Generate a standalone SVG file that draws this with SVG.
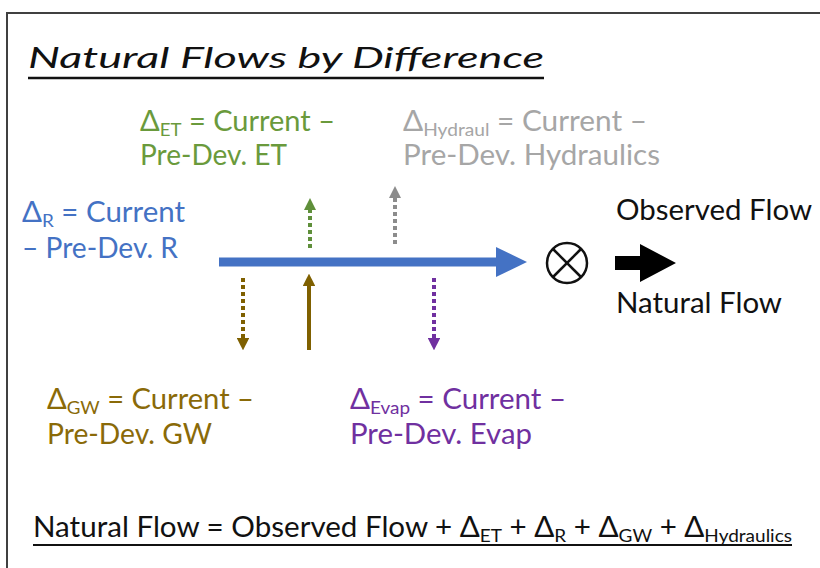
<svg xmlns="http://www.w3.org/2000/svg" width="820" height="568" viewBox="0 0 820 568">
  <style>
    text { font-family: Lato, "Open Sans", "Liberation Sans", sans-serif; font-size: 28px; }
    .sub { font-size: 18px; }
    .green { fill: #6a9a3c; }
    .grey { fill: #a6a6a6; }
    .blue { fill: #4472c4; }
    .gold { fill: #8a6a08; }
    .purple { fill: #7030a0; }
    .dark { fill: #111111; }
    .dot { fill: none; stroke-width: 4; stroke-dasharray: 4 3; }
  </style>
  <defs>
    <marker id="headGreen" viewBox="0 0 10 10" refX="5" refY="5" markerWidth="3" markerHeight="3" orient="auto">
      <path d="M0,0 L10,5 L0,10 Z" fill="#5f8f3a"/>
    </marker>
    <marker id="headGrey" viewBox="0 0 10 10" refX="5" refY="5" markerWidth="3" markerHeight="3" orient="auto">
      <path d="M0,0 L10,5 L0,10 Z" fill="#8c8c8c"/>
    </marker>
    <marker id="headGold" viewBox="0 0 10 10" refX="5" refY="5" markerWidth="3.2" markerHeight="3.2" orient="auto">
      <path d="M0,0 L10,5 L0,10 Z" fill="#7f6000"/>
    </marker>
    <marker id="headPurple" viewBox="0 0 10 10" refX="5" refY="5" markerWidth="3.2" markerHeight="3.2" orient="auto">
      <path d="M0,0 L10,5 L0,10 Z" fill="#7030a0"/>
    </marker>
  </defs>

  <rect x="0" y="0" width="820" height="568" fill="#ffffff"/>
  <!-- slide frame, open to the right and bottom -->
  <path d="M7,570 L7,13 L822,13" fill="none" stroke="#404040" stroke-width="2"/>

  <!-- title -->
  <g id="title">
    <text x="28" y="68" font-size="44" font-style="italic" class="dark" textLength="516" lengthAdjust="spacingAndGlyphs">Natural Flows by Difference</text>
    <line x1="28" y1="78" x2="544" y2="78" stroke="#111" stroke-width="2.5"/>
  </g>

  <!-- labels -->
  <g id="delta-et" class="green">
    <text x="140" y="131" textLength="195" lengthAdjust="spacingAndGlyphs">Δ<tspan class="sub" dy="5">ET</tspan><tspan dy="-5"> = Current –</tspan></text>
    <text x="140" y="165" textLength="147" lengthAdjust="spacingAndGlyphs">Pre-Dev. ET</text>
  </g>
  <g id="delta-hydraul" class="grey">
    <text x="403" y="131" textLength="244" lengthAdjust="spacingAndGlyphs">Δ<tspan class="sub" dy="5">Hydraul</tspan><tspan dy="-5"> = Current –</tspan></text>
    <text x="403" y="165" textLength="257" lengthAdjust="spacingAndGlyphs">Pre-Dev. Hydraulics</text>
  </g>
  <g id="delta-r" class="blue">
    <text x="22" y="222" textLength="163" lengthAdjust="spacingAndGlyphs">Δ<tspan class="sub" dy="5">R</tspan><tspan dy="-5"> = Current</tspan></text>
    <text x="22" y="258" textLength="156" lengthAdjust="spacingAndGlyphs">– Pre-Dev. R</text>
  </g>
  <g id="delta-gw" class="gold">
    <text x="47" y="409" textLength="207" lengthAdjust="spacingAndGlyphs">Δ<tspan class="sub" dy="5">GW</tspan><tspan dy="-5"> = Current –</tspan></text>
    <text x="47" y="444" textLength="165" lengthAdjust="spacingAndGlyphs">Pre-Dev. GW</text>
  </g>
  <g id="delta-evap" class="purple">
    <text x="350" y="409" textLength="216" lengthAdjust="spacingAndGlyphs">Δ<tspan class="sub" dy="5">Evap</tspan><tspan dy="-5"> = Current –</tspan></text>
    <text x="350" y="444" textLength="182" lengthAdjust="spacingAndGlyphs">Pre-Dev. Evap</text>
  </g>
  <g id="observed-flow">
    <text x="616" y="220" class="dark" textLength="196" lengthAdjust="spacingAndGlyphs">Observed Flow</text>
  </g>
  <g id="natural-flow">
    <text x="616" y="313" class="dark" textLength="166" lengthAdjust="spacingAndGlyphs">Natural Flow</text>
  </g>

  <!-- combining operator -->
  <g id="operator" fill="none" stroke="#111" stroke-width="2.5">
    <circle cx="567" cy="263" r="20"/>
    <line x1="553" y1="249" x2="581" y2="277"/>
    <line x1="581" y1="249" x2="553" y2="277"/>
  </g>

  <!-- connectors -->
  <g id="connectors">
    <!-- main current flow -->
    <line x1="219" y1="262" x2="498" y2="262" stroke="#4472c4" stroke-width="9"/>
    <path d="M496,247 L527,262 L496,277 Z" fill="#4472c4"/>
    <!-- result arrow -->
    <path d="M615,256 L640,256 L640,244 L676,263 L640,282 L640,270 L615,270 Z" fill="#000"/>
    <!-- ET (up, dotted) -->
    <line x1="310" y1="248" x2="310" y2="204" class="dot" stroke="#5f8f3a" marker-end="url(#headGreen)"/>
    <!-- hydraulics (up, dotted) -->
    <line x1="395" y1="244" x2="395" y2="192" class="dot" stroke="#8c8c8c" marker-end="url(#headGrey)"/>
    <!-- GW loss (down, dotted) -->
    <line x1="243" y1="278" x2="243" y2="344" class="dot" stroke="#7f6000" marker-end="url(#headGold)"/>
    <!-- GW gain (up, solid) -->
    <line x1="309" y1="350" x2="309" y2="280" stroke="#7f6000" stroke-width="4" marker-end="url(#headGold)"/>
    <!-- evaporation (down, dotted) -->
    <line x1="434" y1="278" x2="434" y2="344" class="dot" stroke="#7030a0" marker-end="url(#headPurple)"/>
  </g>

  <!-- balance equation -->
  <g id="equation" class="dark">
    <text x="33" y="537" textLength="759" lengthAdjust="spacingAndGlyphs">Natural Flow = Observed Flow + Δ<tspan class="sub" dy="5">ET</tspan><tspan dy="-5"> + Δ</tspan><tspan class="sub" dy="5">R</tspan><tspan dy="-5"> + Δ</tspan><tspan class="sub" dy="5">GW</tspan><tspan dy="-5"> + Δ</tspan><tspan class="sub" dy="5">Hydraulics</tspan></text>
    <line x1="33" y1="545" x2="792" y2="545" stroke="#111" stroke-width="1.8"/>
  </g>
</svg>
